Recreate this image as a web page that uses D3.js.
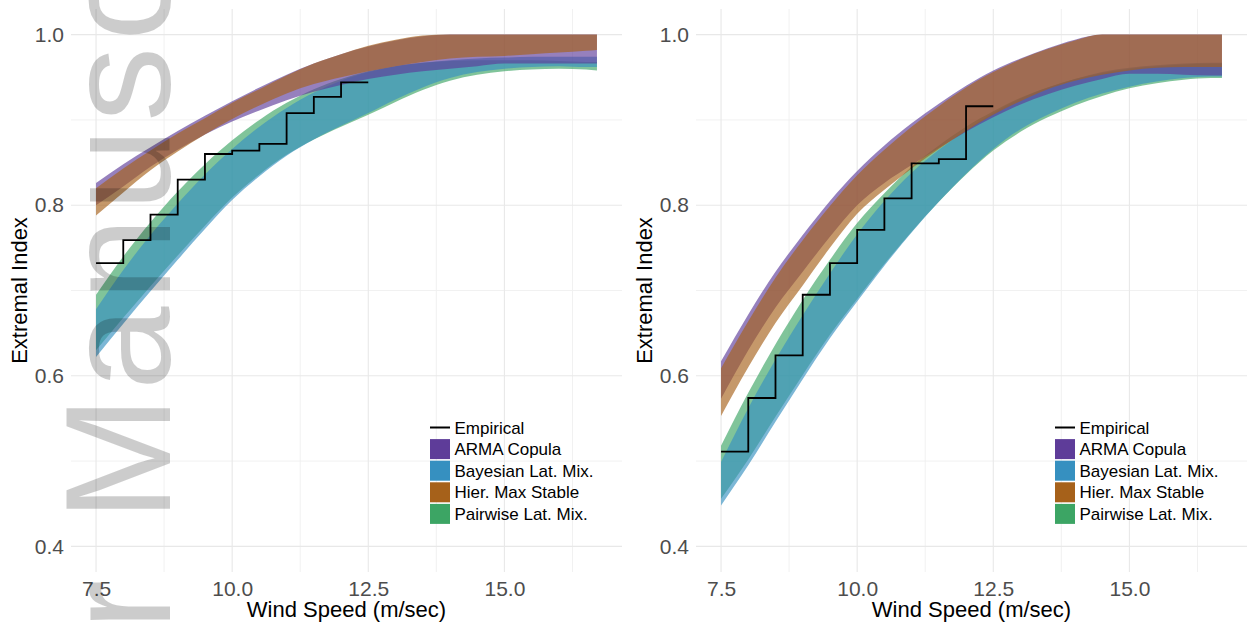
<!DOCTYPE html>
<html>
<head>
<meta charset="utf-8">
<script src="https://cdn.jsdelivr.net/npm/d3@7"></script>
<style>
  body { margin: 0; background: #fff; }
  svg { display: block; }
  text { font-family: "Liberation Sans", Arial, Helvetica, sans-serif; }
</style>
</head>
<body>
<svg id="chart" width="1247" height="628"></svg>
<script>
// wind speed grid the bands are read at
var windSpeed = [7.5, 8, 8.5, 9, 9.5, 10, 10.5, 11, 11.5, 12, 12.5, 13, 13.5, 14, 14.5, 15, 15.5, 16, 16.5, 16.7];

// left panel bands
var armaLoA  = [0.800, 0.822, 0.845, 0.865, 0.883, 0.898, 0.911, 0.923, 0.933, 0.941, 0.948, 0.953, 0.957, 0.960, 0.963, 0.966, 0.966, 0.966, 0.966, 0.966];
var armaHiA  = [0.826, 0.848, 0.868, 0.887, 0.905, 0.922, 0.938, 0.953, 0.966, 0.977, 0.986, 0.993, 0.998, 1, 1, 1, 1, 1, 1, 1];
var bayesLoA = [0.622, 0.661, 0.699, 0.736, 0.772, 0.806, 0.834, 0.858, 0.877, 0.893, 0.908, 0.924, 0.938, 0.949, 0.956, 0.960, 0.962, 0.963, 0.962, 0.962];
var bayesHiA = [0.678, 0.724, 0.765, 0.802, 0.836, 0.866, 0.892, 0.914, 0.932, 0.946, 0.956, 0.963, 0.967, 0.970, 0.972, 0.973, 0.974, 0.974, 0.974, 0.974];
var hierLoA  = [0.788, 0.815, 0.841, 0.863, 0.883, 0.901, 0.917, 0.931, 0.942, 0.950, 0.957, 0.963, 0.968, 0.972, 0.974, 0.975, 0.977, 0.979, 0.981, 0.982];
var hierHiA  = [0.820, 0.843, 0.864, 0.884, 0.902, 0.920, 0.936, 0.952, 0.966, 0.977, 0.987, 0.994, 0.999, 1, 1, 1, 1, 1, 1, 1];
var pairLoA  = [0.630, 0.668, 0.705, 0.741, 0.776, 0.809, 0.836, 0.859, 0.877, 0.892, 0.906, 0.921, 0.935, 0.946, 0.953, 0.957, 0.959, 0.960, 0.959, 0.958];
var pairHiA  = [0.695, 0.740, 0.780, 0.816, 0.848, 0.876, 0.900, 0.920, 0.936, 0.948, 0.957, 0.963, 0.967, 0.969, 0.970, 0.970, 0.970, 0.969, 0.968, 0.968];

// right panel bands
var armaLoB  = [0.573, 0.630, 0.680, 0.722, 0.763, 0.800, 0.826, 0.847, 0.867, 0.886, 0.903, 0.918, 0.930, 0.940, 0.948, 0.954, 0.954, 0.953, 0.952, 0.952];
var armaHiB  = [0.617, 0.672, 0.722, 0.765, 0.805, 0.840, 0.870, 0.896, 0.919, 0.940, 0.958, 0.972, 0.984, 0.994, 1, 1, 1, 1, 1, 1];
var bayesLoB = [0.448, 0.495, 0.546, 0.596, 0.644, 0.687, 0.729, 0.768, 0.804, 0.837, 0.866, 0.889, 0.906, 0.920, 0.931, 0.939, 0.945, 0.949, 0.951, 0.951];
var bayesHiB = [0.499, 0.562, 0.619, 0.671, 0.720, 0.766, 0.805, 0.838, 0.865, 0.888, 0.908, 0.925, 0.938, 0.948, 0.956, 0.961, 0.964, 0.966, 0.967, 0.967];
var hierLoB  = [0.553, 0.610, 0.662, 0.706, 0.750, 0.790, 0.818, 0.843, 0.866, 0.887, 0.906, 0.922, 0.936, 0.946, 0.953, 0.958, 0.961, 0.962, 0.962, 0.962];
var hierHiB  = [0.609, 0.664, 0.715, 0.759, 0.799, 0.835, 0.865, 0.892, 0.916, 0.938, 0.956, 0.971, 0.983, 0.993, 1, 1, 1, 1, 1, 1];
var pairLoB  = [0.456, 0.502, 0.552, 0.601, 0.648, 0.690, 0.731, 0.769, 0.804, 0.836, 0.864, 0.886, 0.903, 0.917, 0.928, 0.937, 0.943, 0.947, 0.949, 0.949];
var pairHiB  = [0.518, 0.580, 0.637, 0.689, 0.736, 0.779, 0.814, 0.845, 0.870, 0.892, 0.910, 0.926, 0.938, 0.948, 0.955, 0.960, 0.963, 0.965, 0.966, 0.966];

// empirical step curves
var empSpeed = [7.5, 8, 8.5, 9, 9.5, 10, 10.5, 11, 11.5, 12, 12.5];
var empA = [0.732, 0.759, 0.789, 0.830, 0.860, 0.864, 0.872, 0.908, 0.927, 0.944, 0.944];
var empB = [0.511, 0.574, 0.624, 0.695, 0.732, 0.771, 0.808, 0.849, 0.854, 0.916, 0.916];

var models = ["ARMA Copula", "Bayesian Lat. Mix.", "Hier. Max Stable", "Pairwise Lat. Mix."];
var modelColors = ["#5e3c99", "#3690c0", "#a6611a", "#3ca564"];
var drawOrder = [3, 1, 0, 2]; // pairwise, bayesian, arma, hier

var xTicks = [7.5, 10, 12.5, 15];
var xMinor = [8.75, 11.25, 13.75, 16.25];
var yTicks = [0.4, 0.6, 0.8, 1.0];
var yMinor = [0.5, 0.7, 0.9];

var panels = [
  { left: 71, emp: empA, bands: [[armaLoA, armaHiA], [bayesLoA, bayesHiA], [hierLoA, hierHiA], [pairLoA, pairHiA]] },
  { left: 696, emp: empB, bands: [[armaLoB, armaHiB], [bayesLoB, bayesHiB], [hierLoB, hierHiB], [pairLoB, pairHiB]] }
];

var panelW = 551, plotTop = 9, plotBottom = 572;
var svg = d3.select("#chart");

var y = d3.scaleLinear().domain([0.37, 1.03]).range([plotBottom, plotTop]);

panels.forEach(function(p) {
  var x = d3.scaleLinear().domain([7.04, 17.16]).range([p.left, p.left + panelW]);
  var g = svg.append("g");

  // grid
  g.selectAll(".xminor").data(xMinor).enter().append("line")
    .attr("x1", x).attr("x2", x).attr("y1", plotTop).attr("y2", plotBottom)
    .attr("stroke", "#efefef").attr("stroke-width", 0.9);
  g.selectAll(".yminor").data(yMinor).enter().append("line")
    .attr("x1", p.left).attr("x2", p.left + panelW).attr("y1", y).attr("y2", y)
    .attr("stroke", "#efefef").attr("stroke-width", 0.9);
  g.selectAll(".xmajor").data(xTicks).enter().append("line")
    .attr("x1", x).attr("x2", x).attr("y1", plotTop).attr("y2", plotBottom)
    .attr("stroke", "#e8e8e8").attr("stroke-width", 1.1);
  g.selectAll(".ymajor").data(yTicks).enter().append("line")
    .attr("x1", p.left).attr("x2", p.left + panelW).attr("y1", y).attr("y2", y)
    .attr("stroke", "#e8e8e8").attr("stroke-width", 1.1);

  // bands
  var area = d3.area()
    .x(function(d) { return x(d[0]); })
    .y0(function(d) { return y(d[1]); })
    .y1(function(d) { return y(d[2]); })
    .curve(d3.curveMonotoneX);

  drawOrder.forEach(function(i) {
    var rows = d3.zip(windSpeed, p.bands[i][0], p.bands[i][1]);
    g.append("path").attr("d", area(rows))
      .attr("fill", modelColors[i]).attr("fill-opacity", 0.65);
  });

  // empirical
  var line = d3.line()
    .x(function(d) { return x(d[0]); })
    .y(function(d) { return y(d[1]); })
    .curve(d3.curveStepAfter);
  g.append("path").attr("d", line(d3.zip(empSpeed, p.emp)))
    .attr("fill", "none").attr("stroke", "#000").attr("stroke-width", 1.8);

  // axes
  var ax = g.append("g").attr("transform", "translate(0," + plotBottom + ")")
    .call(d3.axisBottom(x).tickValues(xTicks).tickFormat(d3.format(".1f")).tickSize(0).tickPadding(9));
  var ay = g.append("g").attr("transform", "translate(" + p.left + ",0)")
    .call(d3.axisLeft(y).tickValues(yTicks).tickFormat(d3.format(".1f")).tickSize(0).tickPadding(7));
  [ax, ay].forEach(function(a) {
    a.select(".domain").remove();
    a.attr("font-size", 21).attr("font-family", "Liberation Sans, Arial, sans-serif");
    a.selectAll("text").attr("fill", "#4d4d4d");
  });

  g.append("text").attr("x", p.left + panelW / 2).attr("y", 617)
    .attr("text-anchor", "middle").attr("font-size", 22).attr("fill", "#000")
    .text("Wind Speed (m/sec)");
  g.append("text").attr("transform", "translate(" + (p.left - 44) + "," + ((plotTop + plotBottom) / 2) + ") rotate(-90)")
    .attr("text-anchor", "middle").attr("font-size", 22).attr("fill", "#000")
    .text("Extremal Index");

  // legend
  var kx = p.left + 359, rowY = 427.5, rowH = 21.6;
  var lg = g.append("g");
  lg.append("line").attr("x1", kx).attr("x2", kx + 20).attr("y1", rowY).attr("y2", rowY)
    .attr("stroke", "#000").attr("stroke-width", 2);
  lg.append("text").attr("x", kx + 24.5).attr("y", rowY + 6)
    .attr("font-size", 17).text("Empirical");
  models.forEach(function(m, i) {
    var cy = rowY + rowH * (i + 1);
    lg.append("rect").attr("x", kx).attr("y", cy - 10).attr("width", 20).attr("height", 20)
      .attr("fill", modelColors[i]);
    lg.append("text").attr("x", kx + 24.5).attr("y", cy + 6)
      .attr("font-size", 17).text(m);
  });
});

// watermark over the left panel
var wm = svg.append("g").attr("fill", "#000").attr("fill-opacity", 0.2)
  .attr("font-size", 150);
wm.append("text").attr("transform", "translate(170,521) rotate(-90)")
  .attr("letter-spacing", 6).text("Manuscript");
wm.append("text").attr("transform", "translate(170,574) rotate(-90)")
  .attr("text-anchor", "end").attr("letter-spacing", 6).text("Author");
</script>
</body>
</html>
